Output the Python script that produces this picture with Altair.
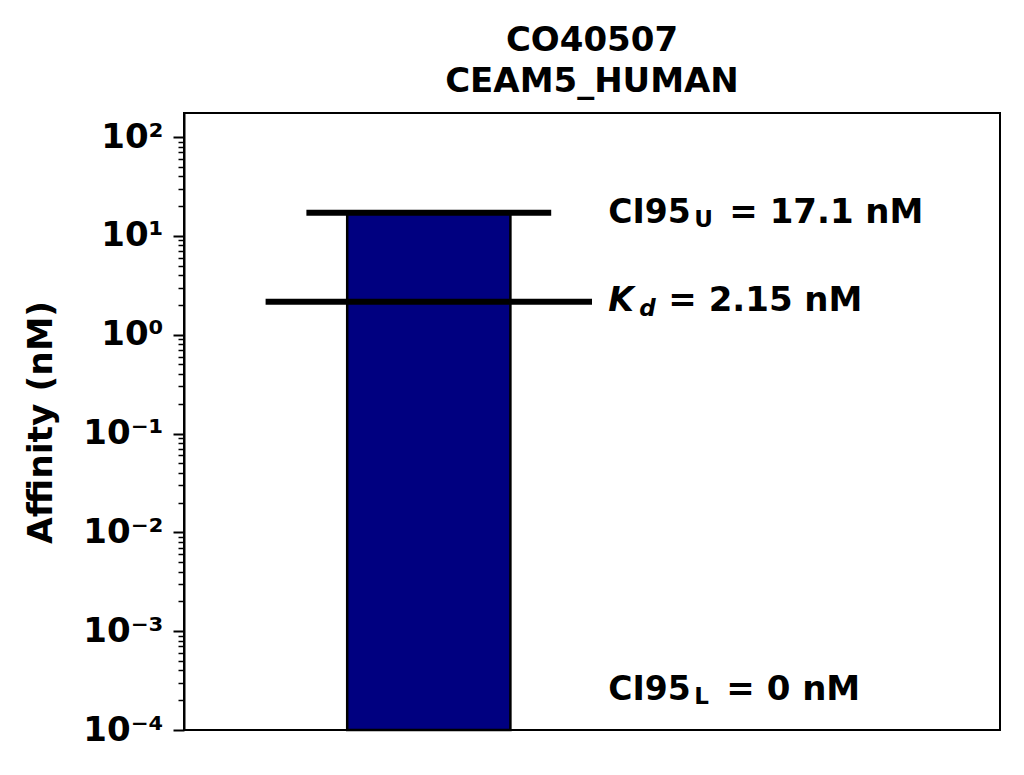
import altair as alt
import pandas as pd

# ---- data ----
title_lines = ["CO40507", "CEAM5_HUMAN"]
ci95_upper = 17.1
kd_value = 2.15
ci95_lower = 0
y_domain = [1e-4, 175]
bar_x = [0.2, 0.4]
upper_rule_x = [0.15, 0.45]
kd_rule_x = [0.1, 0.5]
label_x = 0.52
lower_label_y = 2.54e-4
major_ticks = [1e-4, 1e-3, 1e-2, 1e-1, 1, 10, 100]
tick_labels = ["10⁻⁴", "10⁻³", "10⁻²", "10⁻¹", "10⁰", "10¹", "10²"]
minor_mult = [2, 3, 4, 5, 6, 7, 8, 9]
minor_ticks = [m * t for t in major_ticks[:-1] for m in minor_mult]

FONT = "DejaVu Sans"
FS = 33
FS_VAL = 34

yscale = alt.Scale(type="log", domain=y_domain, nice=False)
xscale = alt.Scale(domain=[0, 1], nice=False, zero=False)

is_major = "abs(log(datum.value)/LN10 - round(log(datum.value)/LN10)) < 1e-6"
labels_js = "[" + ",".join("'%s'" % s for s in tick_labels) + "]"
label_expr = f"({is_major}) ? {labels_js}[round(log(datum.value)/LN10)+4] : ''"

yaxis = alt.Axis(
    values=major_ticks + minor_ticks,
    labelExpr=label_expr,
    labelOverlap=False,
    labelFont=FONT, labelFontSize=34, labelFontWeight="bold", labelColor="black",
    labelPadding=10,
    tickSize={"condition": {"test": is_major, "value": 11}, "value": 6},
    tickWidth={"condition": {"test": is_major, "value": 2}, "value": 1.5},
    tickColor="black",
    domainColor="black", domainWidth=2,
    grid=False,
    title="Affinity (nM)",
    titleFont=FONT, titleFontSize=34.5, titleFontWeight="bold", titleColor="black",
    titleX=-143, titleY=309, titleAngle=-90, titleBaseline="middle", titleAlign="center",
)

bar_df = pd.DataFrame({"x": [bar_x[0]], "x2": [bar_x[1]], "y": [ci95_upper], "y2": [y_domain[0]]})
bar = alt.Chart(bar_df).mark_bar(color="#000080", stroke="black", strokeWidth=2.5).encode(
    x=alt.X("x:Q", scale=xscale, axis=None),
    x2="x2:Q",
    y=alt.Y("y:Q", scale=yscale, axis=yaxis),
    y2="y2:Q",
)

rules_df = pd.DataFrame({
    "x": [upper_rule_x[0], kd_rule_x[0]],
    "x2": [upper_rule_x[1], kd_rule_x[1]],
    "y": [ci95_upper, kd_value],
})
rules = alt.Chart(rules_df).mark_rule(color="black", strokeWidth=6).encode(
    x=alt.X("x:Q", scale=xscale, axis=None),
    x2="x2:Q",
    y=alt.Y("y:Q", scale=yscale),
)


def piece(text, yv, dx, dy, size, style="normal"):
    df = pd.DataFrame({"x": [label_x], "y": [yv], "t": [text]})
    return alt.Chart(df).mark_text(
        align="left", baseline="alphabetic", dx=dx, dy=dy,
        font=FONT, fontSize=size, fontWeight="bold", fontStyle=style, color="black",
    ).encode(
        x=alt.X("x:Q", scale=xscale, axis=None),
        y=alt.Y("y:Q", scale=yscale),
        text="t:N",
    )


texts = [
    piece("CI95", ci95_upper, 0, 10, FS),
    piece("U", ci95_upper, 86, 14, 23),
    piece(f"= {ci95_upper} nM", ci95_upper, 121, 10, FS_VAL),
    piece("K", kd_value, 0, 9, FS, "italic"),
    piece("d", kd_value, 31, 14, 23, "italic"),
    piece(f"= {kd_value} nM", kd_value, 60, 9, FS_VAL),
    piece("CI95", lower_label_y, 0, 10, FS),
    piece("L", lower_label_y, 86, 14, 23),
    piece(f"= {ci95_lower} nM", lower_label_y, 118, 10, FS_VAL),
]

chart = alt.layer(bar, rules, *texts).properties(
    width=816,
    height=617,
    title=alt.TitleParams(
        text=title_lines, font=FONT, fontSize=34, fontWeight="bold", color="black",
        anchor="middle", baseline="bottom", offset=-20, lineHeight=41,
    ),
    autosize=alt.AutoSizeParams(type="none"),
    padding={"left": 176, "top": 105, "right": 16, "bottom": 37},
).configure(
    background="white",
    view=alt.ViewConfig(stroke="black", strokeWidth=2),
)

chart.save("out.html", embed_options={"renderer": "svg", "actions": False})
